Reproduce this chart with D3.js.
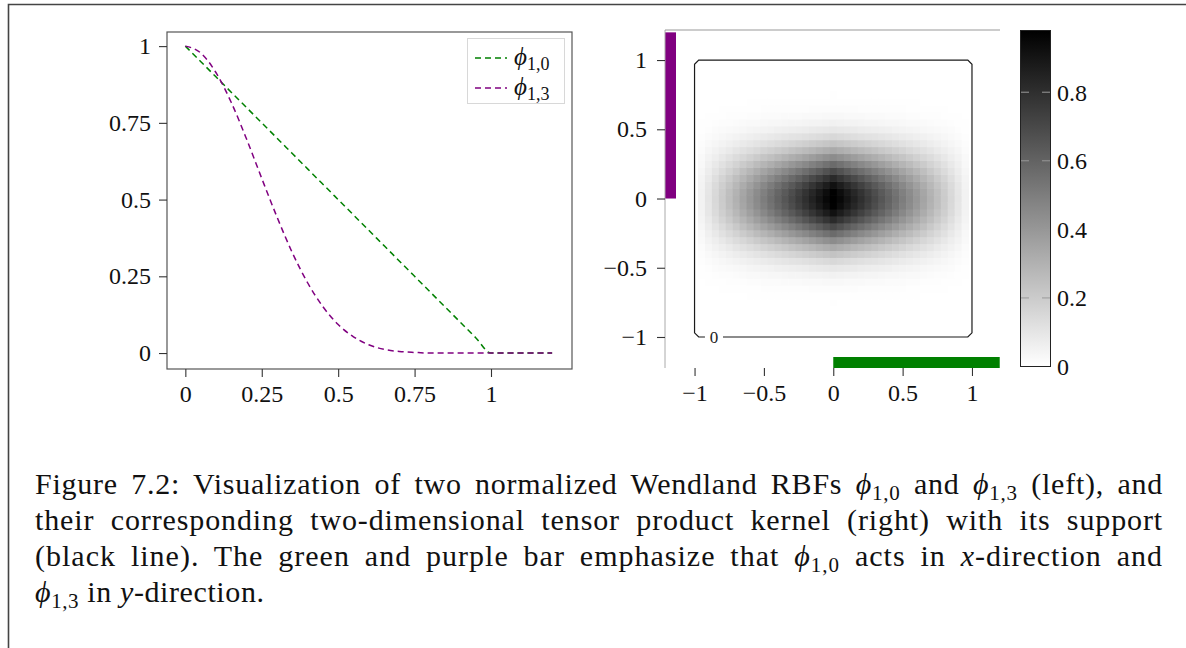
<!DOCTYPE html>
<html><head><meta charset="utf-8">
<script src="https://cdn.jsdelivr.net/npm/d3@7"></script>
<style>body{margin:0;background:#fff} svg text{font-family:"Liberation Serif","DejaVu Serif",serif;}</style>
</head><body><svg id="c" width="1186" height="648"></svg>
<script>
// ---------- data ----------
const rs = [0,0.05,0.1,0.15,0.2,0.25,0.3,0.35,0.4,0.45,0.5,0.55,0.6,0.65,0.7,0.75,0.8,0.85,0.9,0.95,1,1.05,1.1,1.15,1.2];
const phi10 = [1,0.95,0.9,0.85,0.8,0.75,0.7,0.65,0.6,0.55,0.5,0.45,0.4,0.35,0.3,0.25,0.2,0.15,0.1,0.05,0,0,0,0,0];
const phi13 = [1,0.978,0.914,0.817,0.698,0.569,0.443,0.327,0.229,0.151,0.093,0.053,0.027,0.012,0.005,0.002,0,0,0,0,0,0,0,0,0];
const seriesNames = ["1,0","1,3"];
const leftTicks = [0,0.25,0.5,0.75,1];
const leftTickLabels = ["0","0.25","0.5","0.75","1"];
const rightTicks = [-1,-0.5,0,0.5,1];
const rightTickLabels = ["\u22121","\u22120.5","0","0.5","1"];
const cbTicks = [0,0.2,0.4,0.6,0.8];
const cbTickLabels = ["0","0.2","0.4","0.6","0.8"];
const cbMax = 0.98;
const support = [-1,1];
const contourLevelLabel = "0";
const contourLabelX = -0.86;
const captionLines = [
  [["Figure 7.2: Visualization of two normalized Wendland RBFs "],["\u03d5","i"],["1,0","s"],[" and "],["\u03d5","i"],["1,3","s"],[" (left), and"]],
  [["their corresponding two-dimensional tensor product kernel (right) with its support"]],
  [["(black line). The green and purple bar emphasize that "],["\u03d5","i"],["1,0","s"],[" acts in "],["x","i"],["-direction and"]],
  [["\u03d5","i"],["1,3","s"],[" in "],["y","i"],["-direction."]]
];
const colors = ["#008000","#800080"];

const svg = d3.select("#c");
const FS = 24;

// outer border
svg.append("path").attr("d","M8.5,648 V4.5 H1186").attr("fill","none").attr("stroke","#444").attr("stroke-width",1.6);

function styleAxis(a){
  a.select(".domain").remove();
  a.selectAll("line").attr("stroke","#333").attr("stroke-width",1.1);
  a.selectAll("text").attr("font-size",FS).attr("fill","#111").style("font-family","'Liberation Serif',serif");
}

// ---------- left plot ----------
const xL = d3.scaleLinear().domain([-0.06,1.265]).range([167,572]);
const yL = d3.scaleLinear().domain([-0.052,1.046]).range([369,32]);
const gL = svg.append("g");
gL.append("rect").attr("x",167).attr("y",32).attr("width",405).attr("height",337)
  .attr("fill","none").attr("stroke","#555").attr("stroke-width",1.2);

const axL = gL.append("g").attr("transform","translate(0,369)")
  .call(d3.axisBottom(xL).tickValues(leftTicks).tickFormat((d,i)=>leftTickLabels[i]).tickSize(8).tickPadding(8));
const ayL = gL.append("g").attr("transform","translate(167,0)")
  .call(d3.axisLeft(yL).tickValues(leftTicks).tickFormat((d,i)=>leftTickLabels[i]).tickSize(8).tickPadding(8));
styleAxis(axL); styleAxis(ayL);

const line = d3.line().x((d,i)=>xL(rs[i])).y(d=>yL(d)).curve(d3.curveMonotoneX);
[phi10,phi13].forEach((s,k)=>{
  gL.append("path").attr("d",line(s)).attr("fill","none").attr("stroke",colors[k])
    .attr("stroke-width",1.5).attr("stroke-dasharray","6,4");
});
// legend
gL.append("rect").attr("x",467.5).attr("y",38.5).attr("width",97).attr("height",65)
  .attr("fill","#fff").attr("stroke","#d8d8d8").attr("stroke-width",1);
seriesNames.forEach((n,k)=>{
  const yy = 58 + k*30;
  gL.append("line").attr("x1",475).attr("x2",507).attr("y1",yy).attr("y2",yy)
    .attr("stroke",colors[k]).attr("stroke-width",1.5).attr("stroke-dasharray","6,4");
  const t = gL.append("text").attr("x",514).attr("y",yy+7).attr("font-size",25).attr("fill","#111");
  t.append("tspan").attr("font-style","italic").text("\u03d5");
  t.append("tspan").attr("font-size",18).attr("dy",5).text(n);
});

// ---------- right plot ----------
const xR = d3.scaleLinear().domain([-1.213,1.202]).range([665,1000]);
const yR = d3.scaleLinear().domain([-1.224,1.217]).range([368,30]);
const cScale = d3.scaleLinear().domain([0,cbMax]).range(["#ffffff","#000000"]).clamp(true);
const gR = svg.append("g");
// mirrored grid from sample points
const grid = [];
rs.forEach((r,i)=>{ if(i>0) grid.unshift({g:-r,i}); grid.push({g:r,i}); });
const half = (rs[1]-rs[0])/2;
const cells = [];
grid.forEach(a=>grid.forEach(b=>{
  const v = phi10[a.i]*phi13[b.i];
  if(v>0) cells.push({x:a.g,y:b.g,v});
}));
gR.selectAll("rect.cell").data(cells).join("rect").attr("class","cell")
  .attr("x",d=>xR(d.x-half)).attr("y",d=>yR(d.y+half))
  .attr("width",d=>xR(d.x+half)-xR(d.x-half)+0.6).attr("height",d=>yR(d.y-half)-yR(d.y+half)+0.6)
  .attr("fill",d=>cScale(d.v));

// support contour with cut corners and label gap
const c = 0.03, gap = 0.065;
const [s0,s1] = support;
const p = d3.path();
p.moveTo(xR(contourLabelX+gap), yR(s0));
p.lineTo(xR(s1-c), yR(s0)); p.lineTo(xR(s1), yR(s0+c));
p.lineTo(xR(s1), yR(s1-c)); p.lineTo(xR(s1-c), yR(s1));
p.lineTo(xR(s0+c), yR(s1)); p.lineTo(xR(s0), yR(s1-c));
p.lineTo(xR(s0), yR(s0+c)); p.lineTo(xR(s0+c), yR(s0));
p.lineTo(xR(contourLabelX-gap), yR(s0));
gR.append("path").attr("d",p.toString()).attr("fill","none").attr("stroke","#1a1a1a").attr("stroke-width",1.2);
gR.append("text").attr("x",xR(contourLabelX)).attr("y",yR(s0)+6).attr("text-anchor","middle")
  .attr("font-size",17).attr("fill","#222").text(contourLevelLabel);

// direction bars
const rMax = d3.max(rs);
gR.append("rect").attr("x",xR(0)).attr("y",357).attr("width",xR(rMax)-xR(0)).attr("height",11).attr("fill",colors[0]);
gR.append("rect").attr("x",665).attr("y",yR(rMax)).attr("width",11).attr("height",yR(0)-yR(rMax)).attr("fill",colors[1]);

// frame lines
gR.append("line").attr("x1",665).attr("x2",665).attr("y1",30).attr("y2",368).attr("stroke","#aaa").attr("stroke-width",1);
gR.append("line").attr("x1",665).attr("x2",1000).attr("y1",30).attr("y2",30).attr("stroke","#999").attr("stroke-width",1);

const axR = gR.append("g").attr("transform","translate(0,368)")
  .call(d3.axisBottom(xR).tickValues(rightTicks).tickFormat((d,i)=>rightTickLabels[i]).tickSize(8).tickPadding(8));
const ayR = gR.append("g").attr("transform","translate(665,0)")
  .call(d3.axisLeft(yR).tickValues(rightTicks).tickFormat((d,i)=>rightTickLabels[i]).tickSize(8).tickPadding(10));
styleAxis(axR); styleAxis(ayR);

// colorbar
const yC = d3.scaleLinear().domain([0,cbMax]).range([366.5,30.5]);
const defs = svg.append("defs");
const grad = defs.append("linearGradient").attr("id","cb").attr("x1",0).attr("x2",0).attr("y1",1).attr("y2",0);
d3.range(0,1.0001,0.1).forEach(f=>grad.append("stop").attr("offset",f).attr("stop-color",cScale(f*cbMax)));
const gC = svg.append("g");
gC.append("rect").attr("x",1020.5).attr("y",30.5).attr("width",30).attr("height",336)
  .attr("fill","url(#cb)").attr("stroke","#222").attr("stroke-width",1);
cbTicks.forEach((t,i)=>{
  if(t>0){
    gC.append("line").attr("x1",1021).attr("x2",1029).attr("y1",yC(t)).attr("y2",yC(t)).attr("stroke","#999").attr("stroke-width",1);
    gC.append("line").attr("x1",1042).attr("x2",1050).attr("y1",yC(t)).attr("y2",yC(t)).attr("stroke","#999").attr("stroke-width",1);
  }
  gC.append("text").attr("x",1057).attr("y",yC(t)).attr("dy","0.35em").attr("font-size",FS).attr("fill","#111").text(cbTickLabels[i]);
});

// ---------- caption ----------
const capX = 35, capRight = 1163, capY0 = 494, capDY = 36;
captionLines.forEach((segs,li)=>{
  const t = svg.append("text").attr("x",capX).attr("y",capY0+li*capDY).attr("font-size",30).attr("fill","#111")
    .attr("xml:space","preserve").style("white-space","pre");
  let shifted = false;
  segs.forEach(([txt,mode])=>{
    const ts = t.append("tspan").text(txt);
    if(mode==="i") ts.attr("font-style","italic");
    if(mode==="s"){ ts.attr("font-size",21).attr("dy",6); shifted = true; }
    else if(shifted){ ts.attr("dy",-6); shifted=false; }
  });
  const full = segs.map(s=>s[0]).join("");
  const n = (full.match(/ /g)||[]).length;
  const nc = full.length;
  if(li < captionLines.length-1){
    const w = t.node().getComputedTextLength();
    const extra = (capRight-capX)-w;
    // share extra width between letters and word gaps
    const ls = extra*0.5/nc;
    t.attr("letter-spacing",ls);
    const w2 = t.node().getComputedTextLength();
    const rest = (capRight-capX)-w2;
    if(n>0) t.attr("word-spacing",rest/n);
  } else {
    t.attr("letter-spacing",0.6);
  }
});
</script></body></html>
